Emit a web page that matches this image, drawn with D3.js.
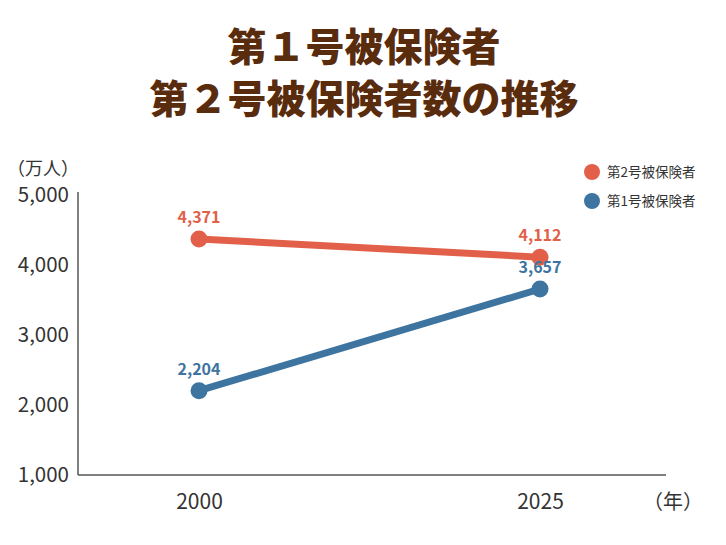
<!doctype html>
<html lang='ja'>
  <head>
    <meta charset='utf-8'>
    <title>第1号被保険者 第2号被保険者数の推移</title>
    <script src='https://d3js.org/d3.v7.min.js'></script>
    <style>
      body { margin: 0; background: #fff; }
      svg text { font-family: 'Noto Sans CJK JP', 'Noto Sans', sans-serif; }
    </style>
  </head>
  <body>
    <svg width='726' height='545'></svg>
    <script>
      var years = [2000, 2025];
      var series2 = [4371, 4112];   // 第2号被保険者
      var series1 = [2204, 3657];   // 第1号被保険者
      var seriesNames = ['第2号被保険者', '第1号被保険者'];
      var yTicks = [1000, 2000, 3000, 4000, 5000];

      var colors = {'第2号被保険者': '#e2604a', '第1号被保険者': '#3e74a0'};

      var svg = d3.select('svg');

      var x = d3.scaleLinear().domain([2000, 2025]).range([199, 540]);
      var y = d3.scaleLinear().domain([1000, 5000]).range([475, 195]);

      // title
      svg.append('text')
        .attr('x', 364).attr('y', 61)
        .attr('text-anchor', 'middle')
        .attr('font-size', 39).attr('font-weight', 900)
        .attr('fill', '#5a2c0e')
        .text('第１号被保険者');
      svg.append('text')
        .attr('x', 364).attr('y', 113)
        .attr('text-anchor', 'middle')
        .attr('font-size', 39).attr('font-weight', 900)
        .attr('fill', '#5a2c0e')
        .text('第２号被保険者数の推移');

      // axes
      var yAxis = svg.append('g')
        .attr('transform', 'translate(78,0)')
        .call(d3.axisLeft(y).tickValues(yTicks).tickSize(0).tickPadding(9)
          .tickFormat(d3.format(',')));
      yAxis.select('.domain').attr('stroke', '#555').attr('stroke-width', 1.5)
        .attr('d', 'M0,192V475');
      yAxis.selectAll('text').attr('font-size', 20.5).attr('fill', '#333')
        .attr('font-family', "'Noto Sans CJK JP', sans-serif");

      var xAxis = svg.append('g')
        .attr('transform', 'translate(0,475)')
        .call(d3.axisBottom(x).tickValues(years).tickSize(0).tickPadding(19)
          .tickFormat(d3.format('d')));
      xAxis.select('.domain').attr('stroke', '#555').attr('stroke-width', 1.5)
        .attr('d', 'M78,0H666');
      xAxis.selectAll('text').attr('font-size', 21).attr('fill', '#333')
        .attr('font-family', "'Noto Sans CJK JP', sans-serif");

      svg.append('text')
        .attr('x', 43).attr('y', 175)
        .attr('text-anchor', 'middle')
        .attr('font-size', 18).attr('fill', '#333')
        .text('（万人）');
      svg.append('text')
        .attr('x', 673).attr('y', 509)
        .attr('text-anchor', 'middle')
        .attr('font-size', 20).attr('fill', '#333')
        .text('（年）');

      // lines
      var line = d3.line()
        .x(function(d, i) { return x(years[i]); })
        .y(function(d) { return y(d); });

      var data = [
        {name: '第2号被保険者', values: series2},
        {name: '第1号被保険者', values: series1}
      ];

      data.forEach(function(s) {
        var c = colors[s.name];
        svg.append('path')
          .datum(s.values)
          .attr('fill', 'none')
          .attr('stroke', c)
          .attr('stroke-width', 7)
          .attr('d', line);
        svg.selectAll(null)
          .data(s.values)
          .enter().append('circle')
          .attr('cx', function(d, i) { return x(years[i]); })
          .attr('cy', function(d) { return y(d); })
          .attr('r', 8.5)
          .attr('fill', c);
        svg.selectAll(null)
          .data(s.values)
          .enter().append('text')
          .attr('x', function(d, i) { return x(years[i]); })
          .attr('y', function(d) { return y(d) - 16; })
          .attr('text-anchor', 'middle')
          .attr('font-size', 16).attr('font-weight', 700)
          .attr('fill', c)
          .text(function(d) { return d3.format(',')(d); });
      });

      // legend
      var legend = svg.append('g')
        .selectAll('g')
        .data(seriesNames)
        .enter().append('g')
        .attr('transform', function(d, i) { return 'translate(592,' + (172 + i * 29) + ')'; });
      legend.append('circle')
        .attr('r', 8)
        .attr('fill', function(d) { return colors[d]; });
      legend.append('text')
        .attr('x', 15).attr('y', 5)
        .attr('font-size', 13.5).attr('fill', '#333')
        .text(function(d) { return d; });
    </script>
  </body>
</html>
